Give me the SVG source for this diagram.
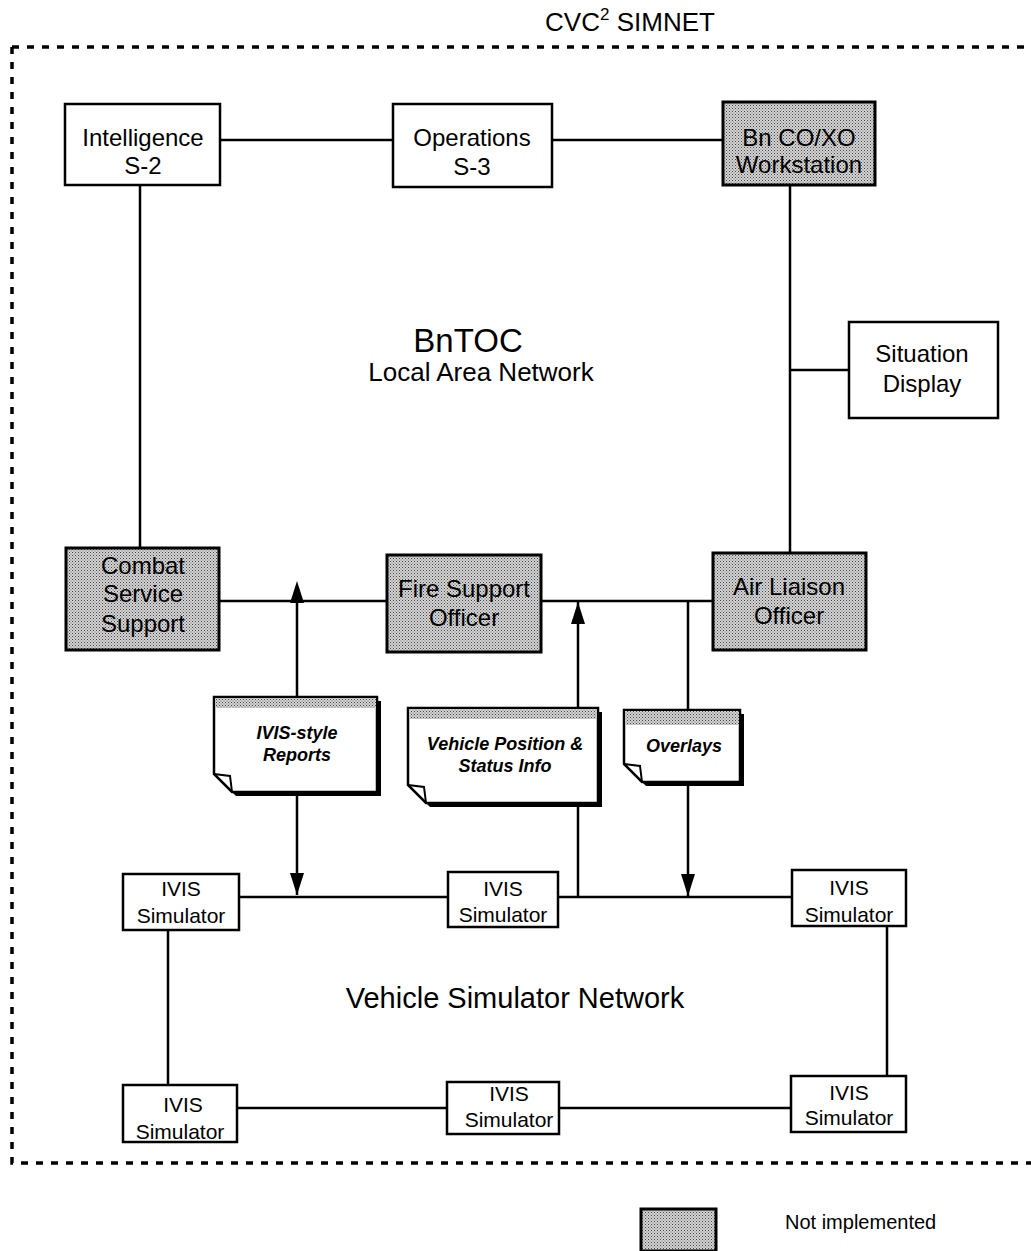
<svg xmlns="http://www.w3.org/2000/svg" width="1031" height="1251" viewBox="0 0 1031 1251">
<defs>
<pattern id="dots" width="3" height="3" patternUnits="userSpaceOnUse">
<rect width="3" height="3" fill="#d4d4d4"/>
<rect width="1" height="1" fill="#444"/>
<rect x="1.5" y="1.5" width="1" height="1" fill="#666"/>
</pattern>
<marker id="ah" viewBox="0 0 22 14" refX="22" refY="7" markerWidth="22" markerHeight="14" markerUnits="userSpaceOnUse" orient="auto">
<path d="M0,0 L22,7 L0,14 Z" fill="#000"/>
</marker>
<marker id="ahs" viewBox="0 0 22 14" refX="0" refY="7" markerWidth="22" markerHeight="14" markerUnits="userSpaceOnUse" orient="auto-start-reverse">
<path d="M0,0 L22,7 L0,14 Z" fill="#000"/>
</marker>
</defs>
<style>
.box{fill:#fff;stroke:#000;stroke-width:2.5}
.sh{fill:url(#dots);stroke:#000;stroke-width:3}
.t{font-family:"Liberation Sans",Arial,sans-serif;fill:#000;text-anchor:middle}
.b{font-size:24px}
.s{font-size:21px}
.d{font-size:18px;font-style:italic;font-weight:bold}
.ln{stroke:#000;stroke-width:2.5;fill:none}
</style>
<rect width="1031" height="1251" fill="#fff"/>
<g id="border">
<path d="M12,47 H1031 M12,47 V1163 H1031" fill="none" stroke="#000" stroke-width="3.5" stroke-dasharray="7,8"/>
<text class="t" x="630" y="31" font-size="26">CVC<tspan font-size="17" dy="-11">2</tspan><tspan dy="11"> SIMNET</tspan></text>
</g>
<g id="connectors">
<path class="ln" d="M220,140 H393 M552,140 H723 M140,185 V548 M790,185 V553 M790,370 H849 M219,601 H387 M541,601 H713"/>
<path class="ln" d="M239,897 H448 M558,897 H792 M168,930 V1085 M887,926 V1076 M237,1108 H447 M559,1108 H791"/>
<path class="ln" d="M297,603 V895" marker-start="url(#ahs)" marker-end="url(#ah)"/>
<path class="ln" d="M578,897 V602" marker-end="url(#ah)"/>
<path class="ln" d="M688,601 V896" marker-end="url(#ah)"/>
</g>
<g id="n-s2"><rect class="box" x="65" y="104" width="155" height="81"/><text class="t b" x="143" y="146">Intelligence</text><text class="t b" x="143" y="174">S-2</text></g>
<g id="n-s3"><rect class="box" x="393" y="104" width="159" height="83"/><text class="t b" x="472" y="146">Operations</text><text class="t b" x="472" y="175">S-3</text></g>
<g id="n-bnco"><rect class="sh" x="723" y="102" width="152" height="83"/><text class="t b" x="799" y="146">Bn CO/XO</text><text class="t b" x="799" y="173">Workstation</text></g>
<g id="n-sit"><rect class="box" x="849" y="322" width="149" height="96"/><text class="t b" x="922" y="362">Situation</text><text class="t b" x="922" y="392">Display</text></g>
<g id="n-css"><rect class="sh" x="66" y="548" width="153" height="102"/><text class="t b" x="143" y="574">Combat</text><text class="t b" x="143" y="602">Service</text><text class="t b" x="143" y="632">Support</text></g>
<g id="n-fso"><rect class="sh" x="387" y="555" width="154" height="97"/><text class="t b" x="464" y="597">Fire Support</text><text class="t b" x="464" y="626">Officer</text></g>
<g id="n-alo"><rect class="sh" x="713" y="553" width="153" height="97"/><text class="t b" x="789" y="595">Air Liaison</text><text class="t b" x="789" y="624">Officer</text></g>
<g id="doc-ivis">
<path d="M218,701 H381 V796 H236 L218,778 Z" fill="#000"/>
<path d="M214,697 H377 V792 H232 L214,774 Z" fill="#fff" stroke="#000" stroke-width="2.5"/>
<rect x="215" y="698" width="161" height="10" fill="url(#dots)"/>
<path d="M214,774 L230,776 L232,792" fill="none" stroke="#000" stroke-width="2"/>
<text class="t d" x="297" y="739">IVIS-style</text><text class="t d" x="297" y="761">Reports</text>
</g>
<g id="doc-veh">
<path d="M412,712 H602 V807 H430 L412,789 Z" fill="#000"/>
<path d="M408,708 H598 V803 H426 L408,785 Z" fill="#fff" stroke="#000" stroke-width="2.5"/>
<rect x="409" y="709" width="188" height="10" fill="url(#dots)"/>
<path d="M408,785 L424,787 L426,803" fill="none" stroke="#000" stroke-width="2"/>
<text class="t d" x="505" y="750">Vehicle Position &amp;</text><text class="t d" x="505" y="772">Status Info</text>
</g>
<g id="doc-ovl">
<path d="M628,714 H744 V786 H646 L628,768 Z" fill="#000"/>
<path d="M624,710 H740 V782 H642 L624,764 Z" fill="#fff" stroke="#000" stroke-width="2.5"/>
<rect x="625" y="711" width="114" height="14" fill="url(#dots)"/>
<path d="M624,764 L640,766 L642,782" fill="none" stroke="#000" stroke-width="2"/>
<text class="t d" x="684" y="752">Overlays</text>
</g>
<g id="sim1"><rect class="box" x="123" y="874" width="116" height="56"/><text class="t s" x="181" y="896">IVIS</text><text class="t s" x="181" y="923">Simulator</text></g>
<g id="sim2"><rect class="box" x="448" y="872" width="110" height="55"/><text class="t s" x="503" y="896">IVIS</text><text class="t s" x="503" y="922">Simulator</text></g>
<g id="sim3"><rect class="box" x="792" y="870" width="114" height="56"/><text class="t s" x="849" y="895">IVIS</text><text class="t s" x="849" y="922">Simulator</text></g>
<g id="sim4"><rect class="box" x="123" y="1085" width="114" height="57"/><text class="t s" x="183" y="1112">IVIS</text><text class="t s" x="180" y="1139">Simulator</text></g>
<g id="sim5"><rect class="box" x="447" y="1082" width="112" height="52"/><text class="t s" x="509" y="1101">IVIS</text><text class="t s" x="509" y="1127">Simulator</text></g>
<g id="sim6"><rect class="box" x="791" y="1076" width="115" height="56"/><text class="t s" x="849" y="1100">IVIS</text><text class="t s" x="849" y="1125">Simulator</text></g>
<g id="labels">
<text class="t" x="468" y="352" font-size="33">BnTOC</text>
<text class="t" x="481" y="381" font-size="26">Local Area Network</text>
<text class="t" x="515" y="1008" font-size="29">Vehicle Simulator Network</text>
</g>
<g id="legend">
<rect class="sh" x="641" y="1209" width="75" height="42" stroke-width="2"/>
<text x="785" y="1229" font-family="Liberation Sans,Arial,sans-serif" font-size="20">Not implemented</text>
</g>
</svg>
